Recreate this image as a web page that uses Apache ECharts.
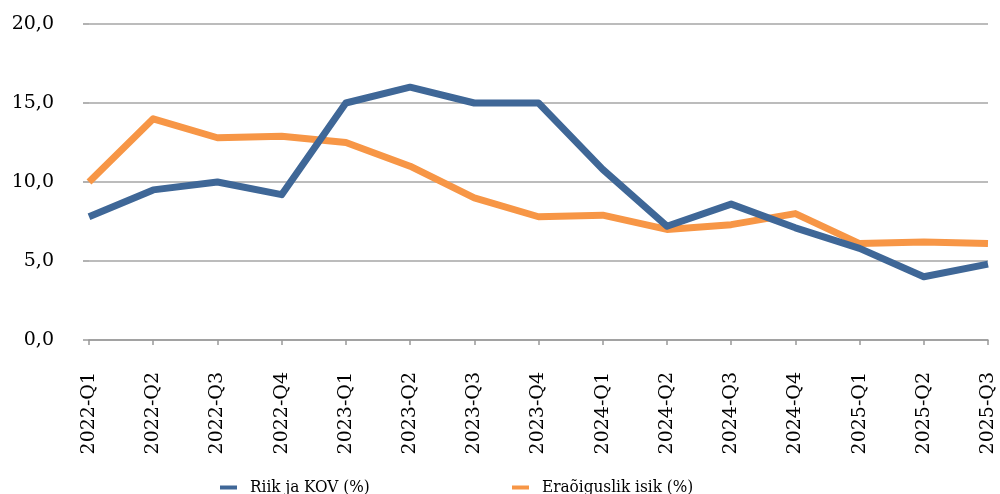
<!DOCTYPE html>
<html>
<head>
<meta charset="utf-8">
<script src="https://cdn.jsdelivr.net/npm/echarts@6/dist/echarts.min.js"></script>
<style>
  html, body { margin: 0; padding: 0; background: #fff; }
  #chart { width: 1000px; height: 494px; }
</style>
</head>
<body>
<div id="chart"></div>
<script>
const quarters = ['2022-Q1', '2022-Q2', '2022-Q3', '2022-Q4', '2023-Q1', '2023-Q2', '2023-Q3', '2023-Q4',
  '2024-Q1', '2024-Q2', '2024-Q3', '2024-Q4', '2025-Q1', '2025-Q2', '2025-Q3'];
const riikKov = [7.8, 9.5, 10.0, 9.2, 15.0, 16.0, 15.0, 15.0, 10.8, 7.2, 8.6, 7.1, 5.8, 4.0, 4.8];
const eraoiguslik = [10.0, 14.0, 12.8, 12.9, 12.5, 11.0, 9.0, 7.8, 7.9, 7.0, 7.3, 8.0, 6.1, 6.2, 6.1];

const font = 'DejaVu Serif';
const legendFont = '"DejaVu Serif Condensed", "Liberation Serif", serif';
const chart = echarts.init(document.getElementById('chart'));

chart.setOption({
  animation: false,
  textStyle: { fontFamily: font },
  grid: { left: 89, right: 12, top: 24, bottom: 154 },
  legend: [
    {
      data: ['Riik ja KOV (%)'],
      left: 215, top: 474,
      icon: 'rect', itemWidth: 17, itemHeight: 4,
      textStyle: { fontFamily: legendFont, fontSize: 17, color: '#000', padding: [0, 0, 0, 8] }
    },
    {
      data: ['Eraõiguslik isik (%)'],
      left: 507, top: 474,
      icon: 'rect', itemWidth: 17, itemHeight: 4,
      textStyle: { fontFamily: legendFont, fontSize: 17, color: '#000', padding: [0, 0, 0, 8] }
    }
  ],
  xAxis: {
    type: 'category',
    data: quarters,
    boundaryGap: false,
    axisLine: { lineStyle: { color: '#999', width: 1.5 } },
    axisTick: { show: true, alignWithLabel: true, length: 5, lineStyle: { color: '#999', width: 1.5 } },
    axisLabel: { rotate: 90, margin: 32, fontSize: 19, color: '#000', fontFamily: font }
  },
  yAxis: {
    type: 'value',
    min: 0, max: 20, interval: 5,
    axisLine: { show: false },
    axisTick: { show: true, length: 6, lineStyle: { color: '#999', width: 1.5 } },
    splitLine: { lineStyle: { color: '#a6a6a6', width: 1.5 } },
    axisLabel: {
      margin: 35, fontSize: 19, color: '#000', fontFamily: font,
      formatter: v => v.toFixed(1).replace('.', ',')
    }
  },
  series: [
    {
      name: 'Riik ja KOV (%)',
      type: 'line',
      data: riikKov,
      symbol: 'none',
      lineStyle: { color: '#3f6797', width: 7, join: 'round' },
      itemStyle: { color: '#3f6797' }
    },
    {
      name: 'Eraõiguslik isik (%)',
      type: 'line',
      data: eraoiguslik,
      symbol: 'none',
      z: 1,
      lineStyle: { color: '#f79646', width: 7, join: 'round' },
      itemStyle: { color: '#f79646' }
    }
  ]
});
</script>
</body>
</html>
